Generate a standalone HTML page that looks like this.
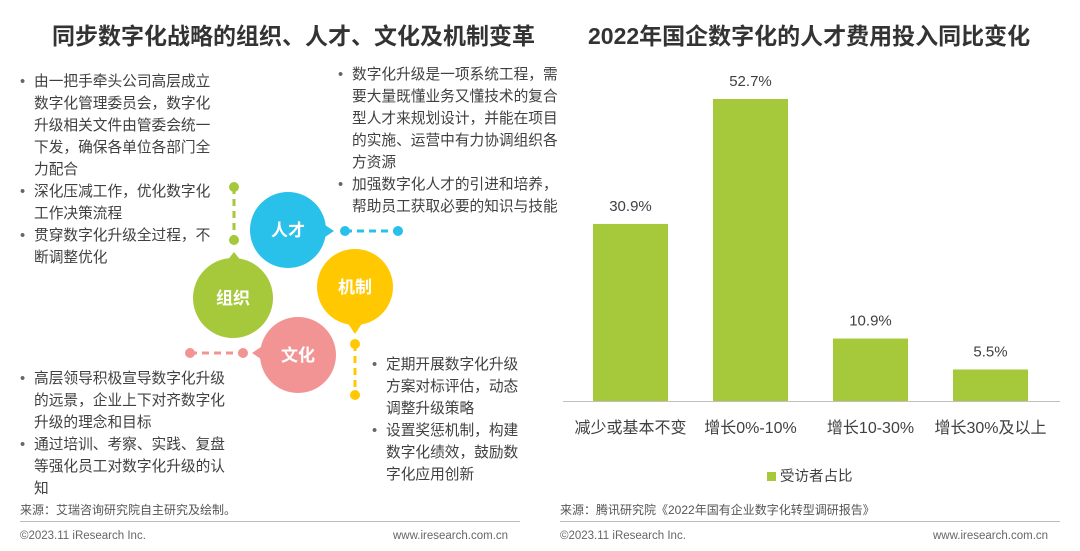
<!DOCTYPE html>
<html><head><meta charset="utf-8"><style>
body{margin:0;width:1080px;height:551px;background:#fff;font-family:"Liberation Sans","Noto Sans CJK SC",sans-serif;position:relative;overflow:hidden;color:#404040}
.a{position:absolute;white-space:nowrap}
.t{font-size:23px;font-weight:bold;color:#333;top:17px}
.b{font-size:14.7px;line-height:22px;color:#404040}
.b div{position:relative;padding-left:14px}
.b div.d::before{content:"•";position:absolute;left:0;color:#666}
.src{font-size:12px;color:#555;top:501px}
.ft{font-size:11.5px;color:#666;top:530px}
.hr{position:absolute;height:1px;background:#bbb;top:521px}
</style></head><body>
<div class="a t" style="left:52px">同步数字化战略的组织、人才、文化及机制变革</div>
<div class="a t" style="left:588px">2022年国企数字化的人才费用投入同比变化</div>

<div class="a b" style="left:20px;top:71px">
<div class="d">由一把手牵头公司高层成立</div><div>数字化管理委员会，数字化</div><div>升级相关文件由管委会统一</div><div>下发，确保各单位各部门全</div><div>力配合</div>
<div class="d">深化压减工作，优化数字化</div><div>工作决策流程</div>
<div class="d">贯穿数字化升级全过程，不</div><div>断调整优化</div></div>
<div class="a b" style="left:338px;top:64px">
<div class="d">数字化升级是一项系统工程，需</div><div>要大量既懂业务又懂技术的复合</div><div>型人才来规划设计，并能在项目</div><div>的实施、运营中有力协调组织各</div><div>方资源</div>
<div class="d">加强数字化人才的引进和培养，</div><div>帮助员工获取必要的知识与技能</div></div>
<div class="a b" style="left:20px;top:368px">
<div class="d">高层领导积极宣导数字化升级</div><div>的远景，企业上下对齐数字化</div><div>升级的理念和目标</div>
<div class="d">通过培训、考察、实践、复盘</div><div>等强化员工对数字化升级的认</div><div>知</div></div>
<div class="a b" style="left:372px;top:354px">
<div class="d">定期开展数字化升级</div><div>方案对标评估，动态</div><div>调整升级策略</div>
<div class="d">设置奖惩机制，构建</div><div>数字化绩效，鼓励数</div><div>字化应用创新</div></div>

<svg class="a" style="left:0;top:0" width="560" height="500">
<g font-family="Liberation Sans,Noto Sans CJK SC,sans-serif" font-weight="bold" font-size="17" fill="#fff" text-anchor="middle">
<g><line x1="234" y1="187" x2="234" y2="240" stroke="#a5c93a" stroke-width="3" stroke-dasharray="7,5"/><circle cx="234" cy="187" r="5" fill="#a5c93a"/><circle cx="234" cy="240" r="5" fill="#a5c93a"/><polygon points="226,262 242,262 234,252" fill="#a5c93a"/><circle cx="233" cy="298" r="40" fill="#a5c93a"/><text x="233" y="304">组织</text></g>
<g><line x1="345" y1="231" x2="398" y2="231" stroke="#29c0ea" stroke-width="3" stroke-dasharray="7,5"/><circle cx="345" cy="231" r="5" fill="#29c0ea"/><circle cx="398" cy="231" r="5" fill="#29c0ea"/><polygon points="322,223 322,239 334,231" fill="#29c0ea"/><circle cx="288" cy="230" r="38" fill="#29c0ea"/><text x="288" y="236">人才</text></g>
<g><line x1="355" y1="344" x2="355" y2="395" stroke="#ffc800" stroke-width="3" stroke-dasharray="7,5"/><circle cx="355" cy="344" r="5" fill="#ffc800"/><circle cx="355" cy="395" r="5" fill="#ffc800"/><polygon points="347,322 363,322 355,334" fill="#ffc800"/><circle cx="355" cy="287" r="38" fill="#ffc800"/><text x="355" y="293">机制</text></g>
<g><line x1="190" y1="353" x2="243" y2="353" stroke="#f29494" stroke-width="3" stroke-dasharray="7,5"/><circle cx="190" cy="353" r="5" fill="#f29494"/><circle cx="243" cy="353" r="5" fill="#f29494"/><polygon points="264,345 264,361 252,353" fill="#f29494"/><circle cx="298" cy="355" r="38" fill="#f29494"/><text x="298" y="361">文化</text></g>
</g></svg>

<svg id="chart" class="a" style="left:0;top:0" width="1080" height="500"></svg>
<div class="a" style="left:767px;top:465px;font-size:14.5px;color:#404040"><span style="display:inline-block;width:9px;height:9px;background:#a5c93a;margin-right:4px"></span>受访者占比</div>

<div class="a src" style="left:20px">来源：艾瑞咨询研究院自主研究及绘制。</div>
<div class="a src" style="left:560px">来源：腾讯研究院《2022年国有企业数字化转型调研报告》</div>
<div class="hr" style="left:20px;width:500px"></div><div class="hr" style="left:560px;width:500px"></div>
<div class="a ft" style="left:20px">©2023.11 iResearch Inc.</div>
<div class="a ft" style="left:393px">www.iresearch.com.cn</div>
<div class="a ft" style="left:560px">©2023.11 iResearch Inc.</div>
<div class="a ft" style="left:933px">www.iresearch.com.cn</div>

<script>
const categories=["减少或基本不变","增长0%-10%","增长10-30%","增长30%及以上"];
const values=[30.9,52.7,10.9,5.5];
const valueLabels=["30.9%","52.7%","10.9%","5.5%"];
const svg=document.getElementById('chart');const NS="http://www.w3.org/2000/svg";
const base=401,scale=302/52.7,x0=593,step=120,bw=75;
const y=v=>base-v*scale, x=i=>x0+i*step;
function mk(t,a){const e=document.createElementNS(NS,t);for(const k in a)e.setAttribute(k,a[k]);svg.appendChild(e);return e;}
categories.forEach((c,i)=>{
 const r=mk('rect',{x:x(i),y:y(values[i]),width:bw,height:base-y(values[i]),fill:'#a5c93a'});
 
 
 const v=mk('text',{x:x(i)+bw/2,y:y(values[i])-13,'text-anchor':'middle','font-size':15,fill:'#404040','font-family':'Liberation Sans,Noto Sans CJK SC,sans-serif'});v.textContent=valueLabels[i];
 
 
 const l=mk('text',{x:x(i)+bw/2,y:433,'text-anchor':'middle','font-size':16,fill:'#404040','font-family':'Liberation Sans,Noto Sans CJK SC,sans-serif'});l.textContent=c;
 
 
});
const ax=mk('line',{x1:563,x2:1060,y1:base+0.5,y2:base+0.5,stroke:'#bfbfbf','stroke-width':1});


</script>
</body></html>
